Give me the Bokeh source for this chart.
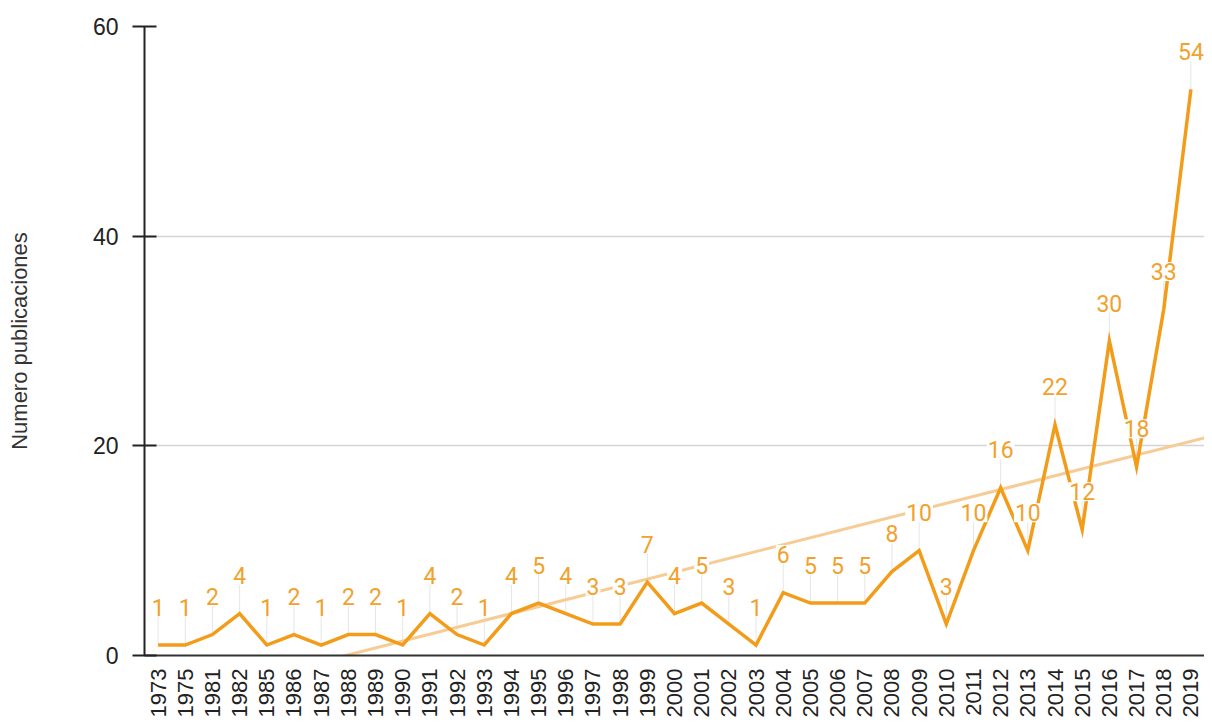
import numpy as np
from bokeh.plotting import figure
from bokeh.models import ColumnDataSource, Range1d, FixedTicker
from bokeh.core.properties import value
from bokeh.embed import file_html
from bokeh.resources import INLINE

years = ["1973", "1975", "1981", "1982", "1985", "1986", "1987", "1988", "1989", "1990",
         "1991", "1992", "1993", "1994", "1995", "1996", "1997", "1998", "1999", "2000",
         "2001", "2002", "2003", "2004", "2005", "2006", "2007", "2008", "2009", "2010",
         "2011", "2012", "2013", "2014", "2015", "2016", "2017", "2018", "2019"]
publications = [1, 1, 2, 4, 1, 2, 1, 2, 2, 1,
                4, 2, 1, 4, 5, 4, 3, 3, 7, 4,
                5, 3, 1, 6, 5, 5, 5, 8, 10, 3,
                10, 16, 10, 22, 12, 30, 18, 33, 54]
y_ticks = [0, 20, 40, 60]

idx = np.arange(len(years))
vals = np.array(publications, dtype=float)
slope, intercept = np.polyfit(idx, vals, 1)
trend_x = np.array([-0.5, len(years) + 0.5])
trend_y = slope * trend_x + intercept

src = ColumnDataSource(dict(x=idx, y=vals, label=[str(v) for v in publications]))

p = figure(width=1204, height=720, output_backend="svg", toolbar_location=None,
           x_range=Range1d(-0.5, 38.5), y_range=Range1d(0, 60),
           min_border_left=144, min_border_right=0, min_border_top=26, min_border_bottom=63)
p.outline_line_color = None
p.background_fill_color = "white"
p.border_fill_color = "white"

# leader lines from point up to label
p.ray(x="x", y="y", angle=np.pi / 2, length=36, length_units="screen", source=src,
      line_color="#e6e6e6", line_width=1)

# trend line
p.line(trend_x, trend_y, line_color="#F7CC94", line_width=3)

# main series
p.line("x", "y", source=src, line_color="#F39C1A", line_width=3.5, line_join="miter")

# value labels
p.text("x", "y", text="label", source=src, text_align="center", text_baseline="alphabetic",
       y_offset=-38, text_font=value("Roboto"), text_font_size="23px", text_color="#F2A12C",
       background_fill_color="white", padding=1)

# axes
p.xgrid.grid_line_color = None
p.ygrid.grid_line_color = "#d4d4d4"
p.ygrid.grid_line_width = 1.5
p.yaxis.ticker = FixedTicker(ticks=y_ticks)
p.ygrid.ticker = FixedTicker(ticks=y_ticks)
p.xaxis.ticker = FixedTicker(ticks=list(idx))
p.xaxis.major_label_overrides = {int(i): y for i, y in zip(idx, years)}
p.xaxis.major_label_orientation = np.pi / 2
p.xaxis.major_tick_line_color = None
p.xaxis.minor_tick_line_color = None
p.xaxis.major_tick_out = 0
p.xaxis.major_tick_in = 0
p.xaxis.major_label_standoff = 13
p.xaxis.major_label_text_font = "Liberation Sans"
p.xaxis.major_label_text_font_size = "22px"
p.xaxis.major_label_text_color = "#222222"
p.xaxis.axis_line_color = "#333333"
p.xaxis.axis_line_width = 2

p.yaxis.axis_line_color = "#222222"
p.yaxis.axis_line_width = 2
p.yaxis.major_tick_line_color = "#222222"
p.yaxis.major_tick_line_width = 2
p.yaxis.major_tick_in = 12
p.yaxis.major_tick_out = 12
p.yaxis.minor_tick_line_color = None
p.yaxis.major_label_standoff = 14
p.yaxis.major_label_text_font = "Liberation Sans"
p.yaxis.major_label_text_font_size = "23px"
p.yaxis.major_label_text_color = "#222222"
p.yaxis.axis_label = "Numero publicaciones"
p.yaxis.axis_label_text_font = "Liberation Sans"
p.yaxis.axis_label_text_font_style = "normal"
p.yaxis.axis_label_text_font_size = "22px"
p.yaxis.axis_label_text_color = "#333333"
p.yaxis.axis_label_standoff = 58

open("out.html", "w").write(file_html(p, INLINE))
